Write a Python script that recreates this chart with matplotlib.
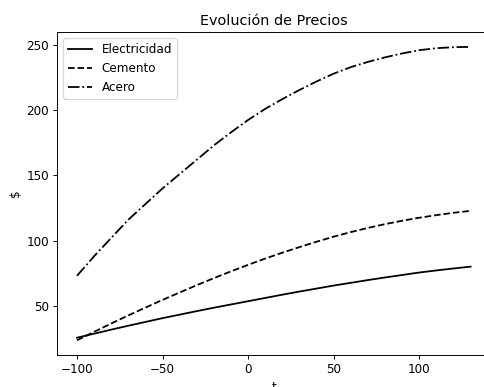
import numpy as np
import matplotlib
matplotlib.use("Agg")
import matplotlib.pyplot as plt

# valores, cada 10 unidades de t
t = list(range(-100, 131, 10))
electricidad = [25.5, 28.6, 31.7, 34.7, 37.6, 40.5, 43.2, 45.9, 48.5, 51.0,
                53.5, 56.0, 58.5, 60.9, 63.2, 65.5, 67.6, 69.7, 71.7, 73.6,
                75.5, 77.1, 78.6, 80.0]
cemento = [23.5, 30.0, 36.4, 42.6, 48.6, 54.5, 60.2, 65.8, 71.2, 76.4,
           81.4, 86.2, 90.7, 95.0, 99.1, 103.0, 106.5, 109.7, 112.6, 115.2,
           117.5, 119.5, 121.3, 122.8]
acero = [73, 88, 102, 116, 128, 140, 151, 162, 173, 183,
         192.5, 201, 208.5, 215.5, 222, 228, 233, 237, 240.5, 243.5,
         246, 247.5, 248.3, 248.5]

DPI = 86
fig = plt.figure(figsize=(484 / DPI, 387 / DPI), dpi=DPI)
# el eje derecho queda fuera de la imagen, como en el original recortado
ax = fig.add_axes([0.1184, 0.0827, 0.8946, 0.834])

ax.plot(t, electricidad, "k-", label="Electricidad")
ax.plot(t, cemento, "k--", label="Cemento")
ax.plot(t, acero, "k-.", label="Acero")

ax.set_title("Evolución de Precios")
ax.set_xlabel("t")
ax.set_ylabel(r"\$")
ax.legend(loc="upper left")

fig.savefig("out.png", dpi=DPI)
